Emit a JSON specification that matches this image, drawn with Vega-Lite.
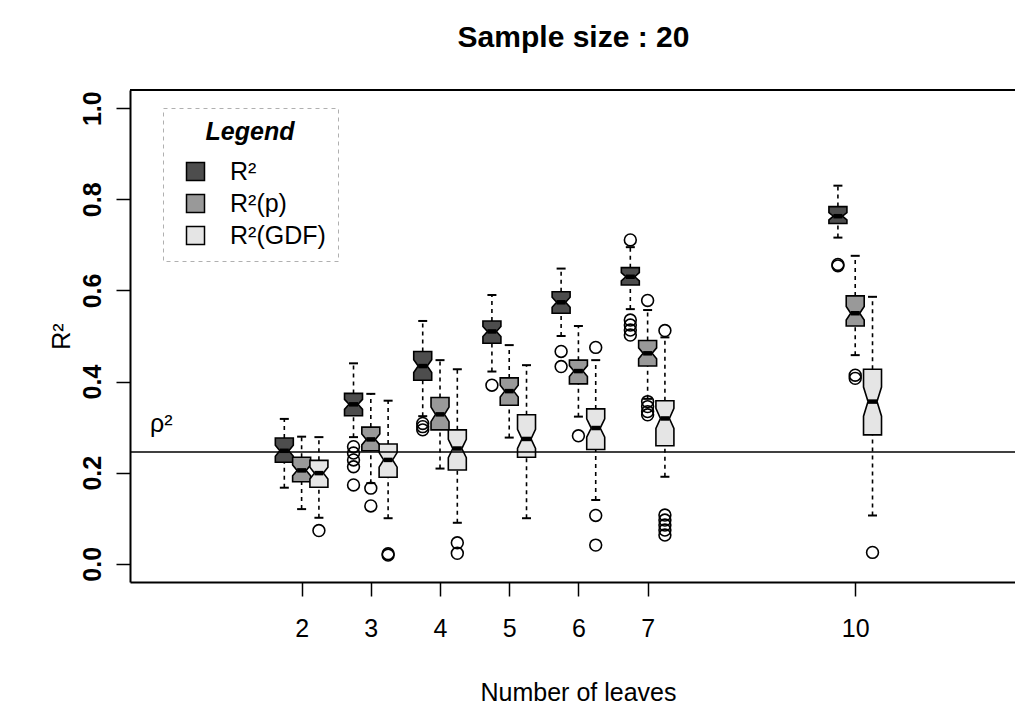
{
  "$schema": "https://vega.github.io/schema/vega-lite/v6.json",
  "width": 885,
  "height": 492,
  "autosize": "none",
  "padding": {"left": 130, "top": 90, "right": 0, "bottom": 123},
  "background": "white",
  "title": {"text": "Sample size : 20", "fontSize": 30, "fontWeight": "bold", "font": "Liberation Sans", "color": "black", "anchor": "middle", "frame": "group", "offset": 36, "dx": 1},
  "config": {
    "view": {"stroke": null},
    "font": "Liberation Sans",
    "axis": {"grid": false, "domainColor": "black", "tickColor": "black", "labelColor": "black", "titleColor": "black", "labelFont": "Liberation Sans", "titleFont": "Liberation Sans"},
    "legend": {"strokeDash": [4, 4]}
  },
  "datasets": {
    "boxes": [
      {"n": 2, "s": "R²", "lo": 0.167, "q1": 0.223, "nl": 0.236, "med": 0.248, "nh": 0.260, "q3": 0.276, "hi": 0.318},
      {"n": 2, "s": "R²(p)", "lo": 0.120, "q1": 0.180, "nl": 0.193, "med": 0.205, "nh": 0.217, "q3": 0.234, "hi": 0.279},
      {"n": 2, "s": "R²(GDF)", "lo": 0.101, "q1": 0.168, "nl": 0.186, "med": 0.199, "nh": 0.212, "q3": 0.227, "hi": 0.278},
      {"n": 3, "s": "R²", "lo": 0.278, "q1": 0.325, "nl": 0.339, "med": 0.350, "nh": 0.361, "q3": 0.374, "hi": 0.440},
      {"n": 3, "s": "R²(p)", "lo": 0.177, "q1": 0.248, "nl": 0.261, "med": 0.273, "nh": 0.285, "q3": 0.300, "hi": 0.373},
      {"n": 3, "s": "R²(GDF)", "lo": 0.100, "q1": 0.190, "nl": 0.212, "med": 0.228, "nh": 0.244, "q3": 0.263, "hi": 0.358},
      {"n": 4, "s": "R²", "lo": 0.324, "q1": 0.403, "nl": 0.420, "med": 0.434, "nh": 0.448, "q3": 0.466, "hi": 0.533},
      {"n": 4, "s": "R²(p)", "lo": 0.209, "q1": 0.294, "nl": 0.312, "med": 0.328, "nh": 0.344, "q3": 0.365, "hi": 0.447},
      {"n": 4, "s": "R²(GDF)", "lo": 0.090, "q1": 0.206, "nl": 0.233, "med": 0.253, "nh": 0.273, "q3": 0.294, "hi": 0.427},
      {"n": 5, "s": "R²", "lo": 0.422, "q1": 0.484, "nl": 0.499, "med": 0.510, "nh": 0.521, "q3": 0.533, "hi": 0.590},
      {"n": 5, "s": "R²(p)", "lo": 0.277, "q1": 0.348, "nl": 0.366, "med": 0.379, "nh": 0.392, "q3": 0.408, "hi": 0.480},
      {"n": 5, "s": "R²(GDF)", "lo": 0.100, "q1": 0.234, "nl": 0.253, "med": 0.274, "nh": 0.295, "q3": 0.327, "hi": 0.436},
      {"n": 6, "s": "R²", "lo": 0.500, "q1": 0.550, "nl": 0.563, "med": 0.574, "nh": 0.585, "q3": 0.597, "hi": 0.648},
      {"n": 6, "s": "R²(p)", "lo": 0.323, "q1": 0.395, "nl": 0.411, "med": 0.423, "nh": 0.435, "q3": 0.447, "hi": 0.522},
      {"n": 6, "s": "R²(GDF)", "lo": 0.140, "q1": 0.251, "nl": 0.278, "med": 0.298, "nh": 0.318, "q3": 0.340, "hi": 0.447},
      {"n": 7, "s": "R²", "lo": 0.559, "q1": 0.612, "nl": 0.621, "med": 0.630, "nh": 0.639, "q3": 0.650, "hi": 0.695},
      {"n": 7, "s": "R²(p)", "lo": 0.362, "q1": 0.434, "nl": 0.450, "med": 0.462, "nh": 0.474, "q3": 0.490, "hi": 0.557},
      {"n": 7, "s": "R²(GDF)", "lo": 0.191, "q1": 0.259, "nl": 0.297, "med": 0.319, "nh": 0.341, "q3": 0.358, "hi": 0.497},
      {"n": 10, "s": "R²", "lo": 0.716, "q1": 0.747, "nl": 0.755, "med": 0.763, "nh": 0.771, "q3": 0.784, "hi": 0.830},
      {"n": 10, "s": "R²(p)", "lo": 0.458, "q1": 0.522, "nl": 0.535, "med": 0.550, "nh": 0.565, "q3": 0.588, "hi": 0.676},
      {"n": 10, "s": "R²(GDF)", "lo": 0.106, "q1": 0.283, "nl": 0.324, "med": 0.356, "nh": 0.388, "q3": 0.427, "hi": 0.586}
    ],
    "out": [
      {"n": 2, "s": "R²(GDF)", "v": 0.073},
      {"n": 3, "s": "R²", "v": 0.257}, {"n": 3, "s": "R²", "v": 0.243}, {"n": 3, "s": "R²", "v": 0.228}, {"n": 3, "s": "R²", "v": 0.213}, {"n": 3, "s": "R²", "v": 0.173},
      {"n": 3, "s": "R²(p)", "v": 0.166}, {"n": 3, "s": "R²(p)", "v": 0.127},
      {"n": 3, "s": "R²(GDF)", "v": 0.022}, {"n": 3, "s": "R²(GDF)", "v": 0.019},
      {"n": 4, "s": "R²", "v": 0.308}, {"n": 4, "s": "R²", "v": 0.301}, {"n": 4, "s": "R²", "v": 0.294},
      {"n": 4, "s": "R²(GDF)", "v": 0.046}, {"n": 4, "s": "R²(GDF)", "v": 0.023},
      {"n": 5, "s": "R²", "v": 0.392},
      {"n": 6, "s": "R²", "v": 0.466}, {"n": 6, "s": "R²", "v": 0.433},
      {"n": 6, "s": "R²(p)", "v": 0.281},
      {"n": 6, "s": "R²(GDF)", "v": 0.475}, {"n": 6, "s": "R²(GDF)", "v": 0.106}, {"n": 6, "s": "R²(GDF)", "v": 0.041},
      {"n": 7, "s": "R²", "v": 0.711}, {"n": 7, "s": "R²", "v": 0.535}, {"n": 7, "s": "R²", "v": 0.524}, {"n": 7, "s": "R²", "v": 0.513}, {"n": 7, "s": "R²", "v": 0.502},
      {"n": 7, "s": "R²(p)", "v": 0.578}, {"n": 7, "s": "R²(p)", "v": 0.356}, {"n": 7, "s": "R²(p)", "v": 0.345}, {"n": 7, "s": "R²(p)", "v": 0.334}, {"n": 7, "s": "R²(p)", "v": 0.327},
      {"n": 7, "s": "R²(GDF)", "v": 0.512}, {"n": 7, "s": "R²(GDF)", "v": 0.107}, {"n": 7, "s": "R²(GDF)", "v": 0.096}, {"n": 7, "s": "R²(GDF)", "v": 0.085}, {"n": 7, "s": "R²(GDF)", "v": 0.074}, {"n": 7, "s": "R²(GDF)", "v": 0.063},
      {"n": 10, "s": "R²", "v": 0.657}, {"n": 10, "s": "R²", "v": 0.654},
      {"n": 10, "s": "R²(p)", "v": 0.414}, {"n": 10, "s": "R²(p)", "v": 0.407},
      {"n": 10, "s": "R²(GDF)", "v": 0.025}
    ],
    "ref": [{"rho2": 0.2454, "label": "ρ²"}]
  },
  "layer": [
    {
      "data": {"name": "boxes"},
      "transform": [
        {"calculate": "datum.n + (datum.s === 'R²' ? -0.25 : (datum.s === 'R²(GDF)' ? 0.25 : 0))", "as": "xc"}
      ],
      "mark": {"type": "rule", "stroke": "black", "strokeWidth": 1.6, "strokeDash": [4, 4]},
      "encoding": {
        "x": {"field": "xc", "type": "quantitative", "title": "Number of leaves", "scale": {"domain": [-0.48, 12.309], "nice": false, "zero": false},
          "axis": {"orient": "bottom", "values": [2, 3, 4, 5, 6, 7, 10], "format": "d", "tickSize": 14, "tickWidth": 1.5, "domainWidth": 2, "labelFontSize": 25, "labelPadding": 20, "labelFlush": false, "titleFontSize": 25, "titleFontWeight": "normal", "titlePadding": 39, "titleX": 448}},
        "y": {"field": "lo", "type": "quantitative", "title": "R²", "scale": {"domain": [-0.04, 1.04], "nice": false, "zero": false},
          "axis": {"orient": "left", "values": [0, 0.2, 0.4, 0.6, 0.8, 1.0], "format": ".1f", "tickSize": 14, "tickWidth": 1.5, "domainWidth": 2, "labelFontSize": 25, "labelFontWeight": "bold", "labelAngle": -90, "labelAlign": "center", "labelBaseline": "alphabetic", "labelPadding": 16, "titleFontSize": 25, "titleFontWeight": "normal", "titlePadding": 6}},
        "y2": {"field": "q1"}
      }
    },
    {
      "data": {"name": "boxes"},
      "transform": [
        {"calculate": "datum.n + (datum.s === 'R²' ? -0.25 : (datum.s === 'R²(GDF)' ? 0.25 : 0))", "as": "xc"}
      ],
      "mark": {"type": "rule", "stroke": "black", "strokeWidth": 1.6, "strokeDash": [4, 4]},
      "encoding": {
        "x": {"field": "xc", "type": "quantitative"},
        "y": {"field": "q3", "type": "quantitative"},
        "y2": {"field": "hi"}
      }
    },
    {
      "data": {"name": "boxes"},
      "transform": [
        {"calculate": "datum.n + (datum.s === 'R²' ? -0.25 : (datum.s === 'R²(GDF)' ? 0.25 : 0))", "as": "xc"},
        {"fold": ["lo", "hi"], "as": ["ck", "cv"]},
        {"calculate": "datum.xc - 0.065", "as": "cl"},
        {"calculate": "datum.xc + 0.065", "as": "cr"}
      ],
      "mark": {"type": "rule", "stroke": "black", "strokeWidth": 2},
      "encoding": {
        "x": {"field": "cl", "type": "quantitative"},
        "x2": {"field": "cr"},
        "y": {"field": "cv", "type": "quantitative"}
      }
    },
    {
      "data": {"name": "boxes"},
      "transform": [
        {"calculate": "datum.n + (datum.s === 'R²' ? -0.25 : (datum.s === 'R²(GDF)' ? 0.25 : 0))", "as": "xc"},
        {"fold": ["q1", "nl", "med", "nh", "q3"], "as": ["k", "v"]},
        {"calculate": "datum.k === 'med' ? 0.065 : 0.13", "as": "hw"},
        {"calculate": "datum.xc - datum.hw", "as": "xl"},
        {"calculate": "datum.xc + datum.hw", "as": "xr"}
      ],
      "mark": {"type": "area", "orient": "horizontal", "stroke": "black", "strokeWidth": 1.6, "opacity": 1, "interpolate": "linear"},
      "encoding": {
        "y": {"field": "v", "type": "quantitative"},
        "x": {"field": "xl", "type": "quantitative"},
        "x2": {"field": "xr"},
        "detail": {"field": "n"},
        "color": {"field": "s", "type": "nominal",
          "scale": {"domain": ["R²", "R²(p)", "R²(GDF)"], "range": ["#4d4d4d", "#999999", "#e5e5e5"]},
          "legend": {"title": "Legend", "orient": "none", "legendX": 33, "legendY": 18, "padding": 12, "fillColor": "white", "strokeColor": "#b0b0b0", "titleFontSize": 25, "titleFontStyle": "italic", "titleFontWeight": "bold", "titleColor": "black", "titleAnchor": "middle", "titlePadding": 14, "labelFontSize": 25, "labelColor": "black", "labelOffset": 22, "symbolType": "square", "symbolSize": 324, "symbolOffset": 8, "symbolStrokeColor": "black", "symbolStrokeWidth": 1.5, "symbolOpacity": 1, "rowPadding": 6}}
      }
    },
    {
      "data": {"name": "boxes"},
      "transform": [
        {"calculate": "datum.n + (datum.s === 'R²' ? -0.25 : (datum.s === 'R²(GDF)' ? 0.25 : 0))", "as": "xc"},
        {"calculate": "datum.xc - 0.065", "as": "ml"},
        {"calculate": "datum.xc + 0.065", "as": "mr"}
      ],
      "mark": {"type": "rule", "stroke": "black", "strokeWidth": 4.5},
      "encoding": {
        "x": {"field": "ml", "type": "quantitative"},
        "x2": {"field": "mr"},
        "y": {"field": "med", "type": "quantitative"}
      }
    },
    {
      "data": {"name": "out"},
      "transform": [
        {"calculate": "datum.n + (datum.s === 'R²' ? -0.25 : (datum.s === 'R²(GDF)' ? 0.25 : 0))", "as": "xc"}
      ],
      "mark": {"type": "point", "shape": "circle", "filled": false, "stroke": "black", "strokeWidth": 1.6, "size": 140, "opacity": 1},
      "encoding": {
        "x": {"field": "xc", "type": "quantitative"},
        "y": {"field": "v", "type": "quantitative"}
      }
    },
    {
      "data": {"name": "ref"},
      "mark": {"type": "rule", "stroke": "black", "strokeWidth": 1.3},
      "encoding": {
        "y": {"field": "rho2", "type": "quantitative"}
      }
    },
    {
      "data": {"name": "ref"},
      "mark": {"type": "text", "align": "left", "baseline": "alphabetic", "fontSize": 25, "dy": -20, "color": "black"},
      "encoding": {
        "x": {"datum": -0.19, "type": "quantitative"},
        "y": {"field": "rho2", "type": "quantitative"},
        "text": {"field": "label"}
      }
    },
    {
      "data": {"name": "ref"},
      "mark": {"type": "rule", "stroke": "black", "strokeWidth": 2},
      "encoding": {
        "y": {"datum": 1.04, "type": "quantitative"}
      }
    }
  ]
}
